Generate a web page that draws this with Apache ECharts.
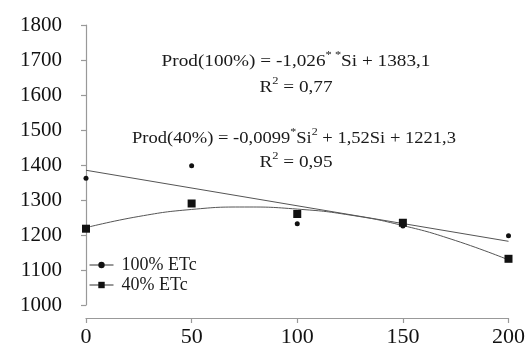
<!DOCTYPE html>
<html><head><meta charset="utf-8">
<script src="https://cdn.jsdelivr.net/npm/echarts@6/dist/echarts.min.js"></script>
<style>html,body{margin:0;padding:0;background:#fff}#c{width:528px;height:349px}</style>
</head><body><div id="c"></div>
<script>
const xTicks = [0, 50, 100, 150, 200];
const prod100 = [1362, 1398, 1232, 1226, 1198];
const prod40 = [1218, 1290, 1260, 1235, 1132];
const trendLinX = [0, 200];
const trendLin = [1385, 1182];
const trendQuadX = [0, 25, 50, 75, 100, 125, 150, 175, 200];
const trendQuad = [1221, 1253, 1273, 1280, 1274, 1257, 1227, 1184, 1129];

const F = 'Liberation Serif, Times New Roman, serif';
const chart = echarts.init(document.getElementById('c'));
const pair = (xs, ys) => xs.map((x, i) => [x, ys[i]]);
const rich = {
  n: {fontFamily: F, fontSize: 17, fill: '#1a1a1a', lineHeight: 20, verticalAlign: 'bottom'},
  s: {fontFamily: F, fontSize: 11, fill: '#1a1a1a', lineHeight: 11, verticalAlign: 'top'}
};
const eq = (text, x, y, sx) => ({
  type: 'text', x: x, y: y, scaleX: sx, silent: true,
  style: {text: text, rich: rich, align: 'center', verticalAlign: 'middle', textAlign: 'center', textVerticalAlign: 'middle'}
});
chart.setOption({
  animation: false,
  backgroundColor: '#fff',
  grid: {left: 86, right: 18, top: 25, bottom: 44},
  xAxis: {
    type: 'value', min: 0, max: 200, interval: 50, offset: 13,
    axisLine: {show: true, lineStyle: {color: '#999', width: 1.2}},
    axisTick: {show: true, length: 5, lineStyle: {color: '#999', width: 1.2}},
    splitLine: {show: false},
    axisLabel: {color: '#111', fontFamily: F, fontSize: 22, margin: 8, formatter: v => String(v)}
  },
  yAxis: {
    type: 'value', min: 1000, max: 1800, interval: 100, offset: 18,
    axisLine: {show: true, lineStyle: {color: '#999', width: 1.2}},
    axisTick: {show: true, length: 5, lineStyle: {color: '#999', width: 1.2}},
    splitLine: {show: false},
    axisLabel: {color: '#111', fontFamily: F, fontSize: 21, margin: 6, formatter: v => String(v)}
  },
  legend: {
    data: ['100% ETc', '40% ETc'], orient: 'vertical', left: 84, top: 251,
    itemWidth: 24, itemHeight: 8, itemGap: 2,
    textStyle: {fontFamily: F, fontSize: 18, color: '#1a1a1a', padding: [0, 0, 0, 3]},
    lineStyle: {opacity: 1, width: 1, color: '#333'}
  },
  series: [
    {name: 'trendLin', type: 'line', data: pair(trendLinX, trendLin), symbol: 'none',
     lineStyle: {color: '#555', width: 1}, silent: true},
    {name: 'trendQuad', type: 'line', data: pair(trendQuadX, trendQuad), symbol: 'none', smooth: true,
     lineStyle: {color: '#555', width: 1}, silent: true},
    {name: '100% ETc', type: 'line', data: pair(xTicks, prod100), symbol: 'circle', symbolSize: 5,
     itemStyle: {color: '#111'}, lineStyle: {opacity: 0, width: 0}},
    {name: '40% ETc', type: 'line', data: pair(xTicks, prod40), symbol: 'rect', symbolSize: 8,
     itemStyle: {color: '#111'}, lineStyle: {opacity: 0, width: 0}}
  ],
  graphic: [
    eq('{n|Prod(100%) = -1,026}{s|* *}{n|Si + 1383,1}', 296, 60, 1.13),
    eq('{n|R}{s|2}{n| = 0,77}', 296, 86, 1.13),
    eq('{n|Prod(40%) = -0,0099}{s|*}{n|Si}{s|2}{n| + 1,52Si + 1221,3}', 294, 137, 1.09),
    eq('{n|R}{s|2}{n| = 0,95}', 296, 161, 1.13)
  ]
});
</script></body></html>
